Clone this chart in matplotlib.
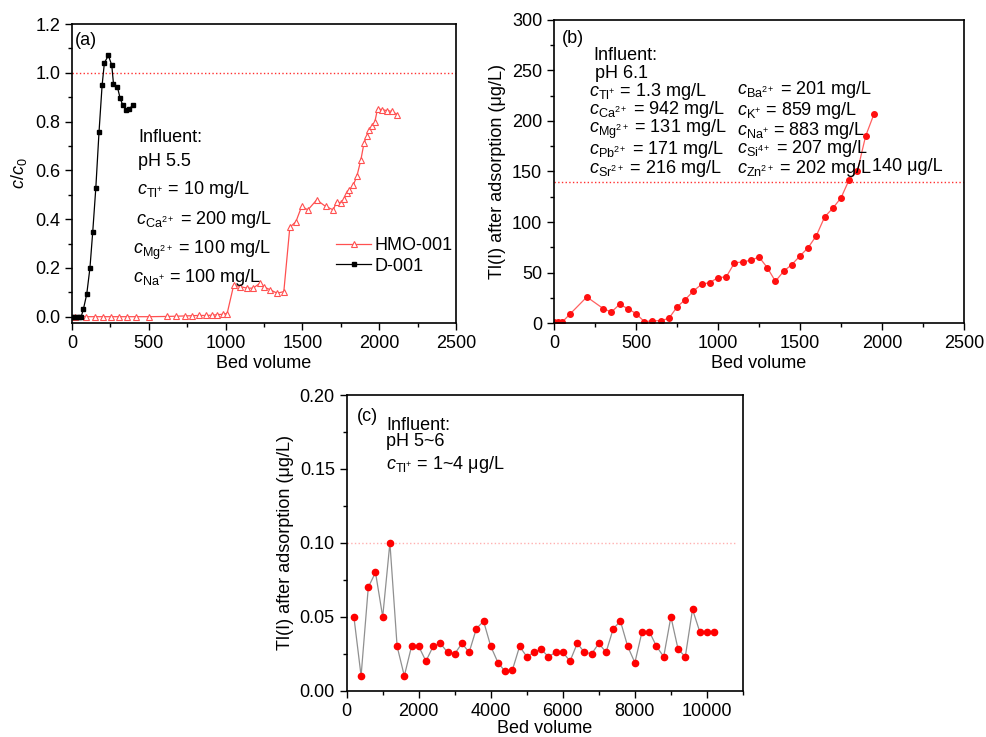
import numpy as np
import matplotlib
matplotlib.use('Agg')
import matplotlib.pyplot as plt
from matplotlib.ticker import MultipleLocator

plt.rcParams['font.family'] = ['Liberation Sans', 'DejaVu Sans']
plt.rcParams['mathtext.fontset'] = 'custom'
plt.rcParams['mathtext.rm'] = 'Liberation Sans'
plt.rcParams['mathtext.it'] = 'Liberation Sans:italic'
plt.rcParams['mathtext.bf'] = 'Liberation Sans:bold'

# %% datos panel (a)
bv_d001 = [0, 15, 30, 45, 60, 74, 96, 117, 135, 155, 176, 196, 211, 237, 259,
           270, 296, 313, 331, 352, 372, 396]
c_d001 = [0, 0, 0, 0, 0, 0.030, 0.092, 0.20, 0.347, 0.526, 0.757, 0.948, 1.041,
          1.071, 1.031, 0.956, 0.941, 0.897, 0.866, 0.849, 0.853, 0.866]

bv_hmo = [20, 90, 150, 200, 255, 305, 360, 420, 500, 620, 680, 735, 780, 825,
          870, 910, 945, 980, 1010, 1053, 1097, 1140, 1179, 1223, 1253, 1292,
          1336, 1379, 1418, 1458, 1495, 1536, 1593, 1651, 1701, 1723, 1749,
          1771, 1788, 1806, 1832, 1854, 1880, 1901, 1919, 1934, 1952, 1971,
          1989, 2021, 2049, 2080, 2119]
c_hmo = [0, 0, 0, 0, 0, 0, 0, 0, 0, 0.001, 0.002, 0.003, 0.004, 0.005, 0.005,
         0.006, 0.008, 0.010, 0.013, 0.130, 0.123, 0.117, 0.117, 0.137, 0.121,
         0.110, 0.096, 0.103, 0.366, 0.390, 0.452, 0.438, 0.479, 0.452, 0.438,
         0.472, 0.466, 0.482, 0.507, 0.518, 0.541, 0.575, 0.641, 0.712, 0.740,
         0.764, 0.781, 0.797, 0.852, 0.849, 0.845, 0.842, 0.829]

# %% datos panel (b)
bv_b = [0, 25, 50, 100, 200, 300, 350, 400, 450, 500, 550, 600, 650, 700, 750,
        800, 850, 900, 950, 1000, 1050, 1100, 1150, 1200, 1250, 1300, 1350,
        1400, 1450, 1500, 1550, 1600, 1650, 1700, 1750, 1800, 1850, 1900, 1950]
tl_b = [1.5, 1.5, 1, 9.3, 25.8, 14.3, 10.9, 18.5, 14.3, 9.3, 1.5, 2, 2.5, 4.5,
        15.9, 23.2, 31.7, 38.4, 40, 45, 45.6, 59.5, 60.5, 62.1, 65.4, 54.9,
        41.3, 51.2, 57.9, 66.4, 74.7, 86.6, 105, 113.7, 123.9, 142, 150.6, 185,
        206.5]

# %% datos panel (c)
bv_c = list(range(200, 10201, 200))
tl_c = [0.050, 0.010, 0.070, 0.080, 0.050, 0.100, 0.030, 0.010, 0.030, 0.030,
        0.020, 0.030, 0.032, 0.026, 0.025, 0.032, 0.026, 0.042, 0.047, 0.030,
        0.019, 0.013, 0.014, 0.030, 0.023, 0.026, 0.028, 0.023, 0.026, 0.026,
        0.020, 0.032, 0.026, 0.025, 0.032, 0.026, 0.042, 0.047, 0.030, 0.019,
        0.040, 0.040, 0.030, 0.023, 0.050, 0.028, 0.023, 0.055, 0.040, 0.040,
        0.040]

limite_a = 1.0
limite_b = 140
limite_c = 0.10

fs = 13


def estilo(ax, xmaj, xmin, ymaj, ymin):
    ax.xaxis.set_major_locator(MultipleLocator(xmaj))
    ax.yaxis.set_major_locator(MultipleLocator(ymaj))
    ax.xaxis.set_minor_locator(MultipleLocator(xmin))
    ax.yaxis.set_minor_locator(MultipleLocator(ymin))
    ax.tick_params(which='both', direction='out', top=False, right=False,
                   labelsize=13, width=1)
    ax.tick_params(which='major', length=5)
    ax.tick_params(which='minor', length=3)
    for s in ax.spines.values():
        s.set_linewidth(1.2)


fig = plt.figure(figsize=(9.86, 7.37), dpi=100)

# %% (a)
ax1 = fig.add_axes([0.0730, 0.5617, 0.3895, 0.4057])
ax1.axhline(limite_a, color='#ff3030', ls=':', lw=1)
ax1.plot(bv_hmo, c_hmo, color='#ff5050', lw=0.9, marker='^', ms=4.5,
         mfc='white', mec='#ff5050', mew=0.8, label='HMO-001')
ax1.plot(bv_d001, c_d001, color='black', lw=0.9, marker='s', ms=3,
         label='D-001')
ax1.set_xlim(0, 2500)
ax1.set_ylim(-0.026, 1.2)
ax1.set_xlabel('Bed volume', fontsize=fs, labelpad=2)
ax1.set_ylabel(r'$c/c_0$', fontsize=fs, labelpad=4)
estilo(ax1, 500, 250, 0.2, 0.1)
ax1.legend(loc='upper left', bbox_to_anchor=(0.664, 0.318), frameon=False,
           fontsize=fs, handlelength=1.95, handletextpad=0.2, labelspacing=0.2,
           borderpad=0)
ax1.text(20, 1.112, '(a)', fontsize=fs)
ax1.text(430, 0.715, 'Influent:', fontsize=fs)
ax1.text(430, 0.616, 'pH 5.5', fontsize=fs)
ax1.text(424, 0.503, r'$c_{\mathrm{Tl^{+}}}$ = 10 mg/L', fontsize=fs)
ax1.text(415, 0.381, r'$c_{\mathrm{Ca^{2+}}}$ = 200 mg/L', fontsize=fs)
ax1.text(400, 0.258, r'$c_{\mathrm{Mg^{2+}}}$ = 100 mg/L', fontsize=fs)
ax1.text(396, 0.144, r'$c_{\mathrm{Na^{+}}}$ = 100 mg/L', fontsize=fs)

# %% (b)
ax2 = fig.add_axes([0.5619, 0.5617, 0.4158, 0.4112])
ax2.axhline(limite_b, color='#ff3030', ls=':', lw=1)
ax2.plot(bv_b, tl_b, color='#ff6060', lw=0.9, marker='o', ms=4,
         mfc='#ff1010', mec='#ff1010')
ax2.set_xlim(0, 2500)
ax2.set_ylim(0, 300)
ax2.set_xlabel('Bed volume', fontsize=fs, labelpad=2)
ax2.set_ylabel('Tl(I) after adsorption (μg/L)', fontsize=fs, labelpad=4)
estilo(ax2, 500, 250, 50, 25)
ax2.text(47, 277, '(b)', fontsize=fs)
ax2.text(238, 260, 'Influent:', fontsize=fs)
ax2.text(250, 242.5, 'pH 6.1', fontsize=fs)
izq = [r'$c_{\mathrm{Tl^{+}}}$ = 1.3 mg/L', r'$c_{\mathrm{Ca^{2+}}}$ = 942 mg/L',
       r'$c_{\mathrm{Mg^{2+}}}$ = 131 mg/L', r'$c_{\mathrm{Pb^{2+}}}$ = 171 mg/L',
       r'$c_{\mathrm{Sr^{2+}}}$ = 216 mg/L']
der = [r'$c_{\mathrm{Ba^{2+}}}$ = 201 mg/L', r'$c_{\mathrm{K^{+}}}$ = 859 mg/L',
       r'$c_{\mathrm{Na^{+}}}$ = 883 mg/L', r'$c_{\mathrm{Si^{4+}}}$ = 207 mg/L',
       r'$c_{\mathrm{Zn^{2+}}}$ = 202 mg/L']
y_izq = [224.7, 206.8, 188.3, 167.2, 148.7]
y_der = [226.3, 205.8, 186.0, 167.9, 148.7]
for t, y in zip(izq, y_izq):
    ax2.text(213, y, t, fontsize=fs)
for t, y in zip(der, y_der):
    ax2.text(1116, y, t, fontsize=fs)
ax2.text(1939, 150.6, '140 μg/L', fontsize=fs)

# %% (c)
ax3 = fig.add_axes([0.3516, 0.0628, 0.4019, 0.4012])
ax3.plot([0, 10800], [limite_c, limite_c], color='#ffb0b0', ls=':', lw=1)
ax3.plot(bv_c, tl_c, color='#909090', lw=0.9, marker='o', ms=4.5,
         mfc='#ff0000', mec='#ff0000')
ax3.set_xlim(0, 11000)
ax3.set_ylim(0, 0.20)
ax3.set_xlabel('Bed volume', fontsize=fs, labelpad=0)
ax3.set_ylabel('Tl(I) after adsorption (μg/L)', fontsize=fs, labelpad=4)
estilo(ax3, 2000, 1000, 0.05, 0.025)
ax3.text(286, 0.1823, '(c)', fontsize=fs)
ax3.text(1090, 0.1764, 'Influent:', fontsize=fs)
ax3.text(1090, 0.1655, 'pH 5~6', fontsize=fs)
ax3.text(1090, 0.1497, r'$c_{\mathrm{Tl^{+}}}$ = 1~4 μg/L', fontsize=fs)

fig.savefig('out.png', dpi=100)
